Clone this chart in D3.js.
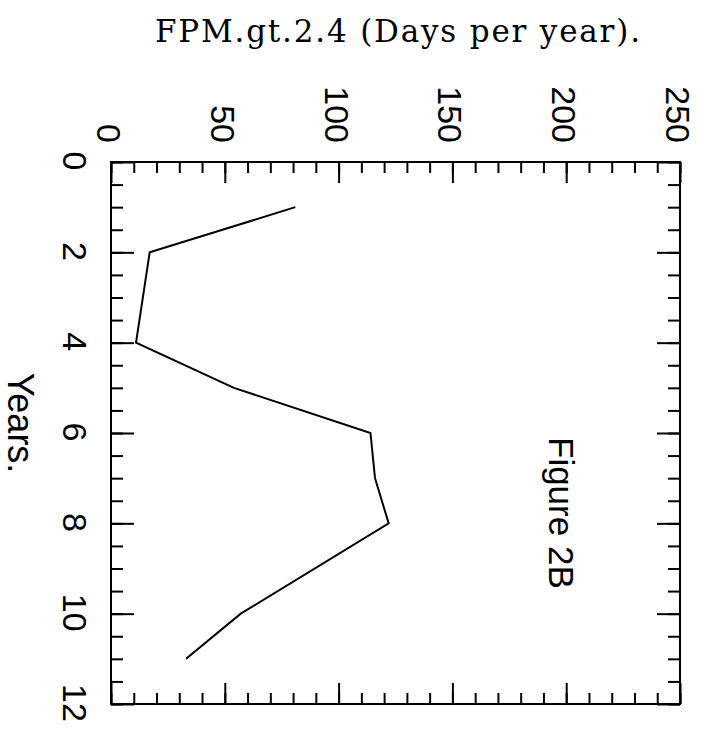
<!DOCTYPE html>
<html>
<head>
<meta charset="utf-8">
<script src="https://cdn.jsdelivr.net/npm/d3@7"></script>
<style>
  body { margin: 0; background: #fff; }
  svg { display: block; }
  .tick line { stroke: #000; stroke-width: 2; }
</style>
</head>
<body>
<svg width="703" height="729"></svg>
<script>
// Data (year, days per year)
var years = [1, 2, 4, 5, 6, 7, 8, 10, 11],
	days = [81, 17, 11, 54, 114, 116, 122, 57, 33];

// Axis ticks
var yearTicks = [0, 2, 4, 6, 8, 10, 12],
	dayTicks = [0, 50, 100, 150, 200, 250];

var title = "FPM.gt.2.4 (Days per year).",
	yearLabel = "Years.",
	note = "Figure 2B";

var svg = d3.select("svg");

// The plot is drawn turned a quarter turn clockwise:
// years run down the page, days run left to right
var plotTop = 162, plotBottom = 704, plotLeft = 111, plotRight = 680;

var yearScale = d3.scaleLinear().domain([0, 12]).range([plotTop, plotBottom]),
	dayScale = d3.scaleLinear().domain([0, 250]).range([plotLeft, plotRight]);

var data = years.map(function(y, i) { return {year: y, days: days[i]}; });

// Ticks on all four sides, pointing inward
var dayMinor = d3.range(0, 251, 10),
	yearMinor = d3.range(0, 12.01, 0.5);

function tickGroup(axis, tx, ty) {
	var g = svg.append("g")
		.attr("transform", "translate(" + tx + "," + ty + ")")
		.call(axis);
	g.select(".domain").remove();
	g.selectAll("text").remove();
	return g;
}

tickGroup(d3.axisTop(dayScale).tickValues(dayMinor).tickSize(-11), 0, plotTop);
tickGroup(d3.axisTop(dayScale).tickValues(dayTicks).tickSize(-21), 0, plotTop);
tickGroup(d3.axisBottom(dayScale).tickValues(dayMinor).tickSize(-11), 0, plotBottom);
tickGroup(d3.axisBottom(dayScale).tickValues(dayTicks).tickSize(-21), 0, plotBottom);
tickGroup(d3.axisLeft(yearScale).tickValues(yearMinor).tickSize(-12), plotLeft, 0);
tickGroup(d3.axisLeft(yearScale).tickValues(yearTicks).tickSize(-23), plotLeft, 0);
tickGroup(d3.axisRight(yearScale).tickValues(yearMinor).tickSize(-12), plotRight, 0);
tickGroup(d3.axisRight(yearScale).tickValues(yearTicks).tickSize(-23), plotRight, 0);

// Frame
svg.append("rect")
	.attr("x", plotLeft)
	.attr("y", plotTop)
	.attr("width", plotRight - plotLeft)
	.attr("height", plotBottom - plotTop)
	.attr("fill", "none")
	.attr("stroke", "#000")
	.attr("stroke-width", 2);

// Series
var line = d3.line()
	.x(function(d) { return dayScale(d.days); })
	.y(function(d) { return yearScale(d.year); });

svg.append("path")
	.datum(data)
	.attr("d", line)
	.attr("fill", "none")
	.attr("stroke", "#000")
	.attr("stroke-width", 2);

// Tick labels, turned like the plot
var sans = "Liberation Sans, Arial, Helvetica, sans-serif";

svg.selectAll(".daylabel")
	.data(dayTicks).enter()
	.append("text")
	.attr("class", "daylabel")
	.attr("transform", function(d) { return "translate(" + (dayScale(d) - 2) + ",143) rotate(90)"; })
	.attr("dy", "0.35em")
	.attr("text-anchor", "end")
	.attr("font-family", sans)
	.attr("font-size", 34)
	.text(function(d) { return d; });

svg.selectAll(".yearlabel")
	.data(yearTicks).enter()
	.append("text")
	.attr("class", "yearlabel")
	.attr("transform", function(d) { return "translate(75," + (yearScale(d) - 1) + ") rotate(90)"; })
	.attr("dy", "0.35em")
	.attr("text-anchor", "middle")
	.attr("font-family", sans)
	.attr("font-size", 34)
	.text(function(d) { return d; });

svg.append("text")
	.attr("transform", "translate(21,423) rotate(90)")
	.attr("dy", "0.35em")
	.attr("text-anchor", "middle")
	.attr("font-family", sans)
	.attr("font-size", 36)
	.text(yearLabel);

svg.append("text")
	.attr("transform", "translate(561,437) rotate(90)")
	.attr("dy", "0.35em")
	.attr("text-anchor", "start")
	.attr("font-family", sans)
	.attr("font-size", 35)
	.text(note);

// Title stays upright
svg.append("text")
	.attr("x", 155)
	.attr("y", 42)
	.attr("font-family", "DejaVu Serif, serif")
	.attr("font-size", 31)
	.attr("textLength", 485)
	.attr("lengthAdjust", "spacing")
	.text(title);
</script>
</body>
</html>
